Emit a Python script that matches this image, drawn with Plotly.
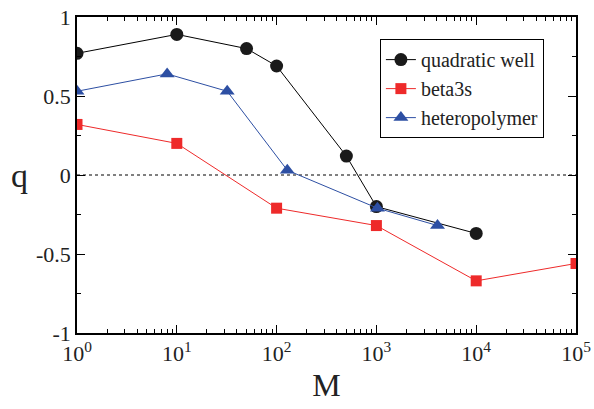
import plotly.graph_objects as go

qw_M = [1, 10, 50, 100, 500, 1000, 10000]
qw_q = [0.77, 0.89, 0.80, 0.69, 0.12, -0.20, -0.37]

b3_M = [1, 10, 100, 1000, 10000, 100000]
b3_q = [0.32, 0.20, -0.21, -0.32, -0.67, -0.56]

hp_M = [1, 8, 32, 128, 1024, 4096]
hp_q = [0.53, 0.64, 0.53, 0.03, -0.21, -0.32]

x_tickvals = [1, 10, 100, 1000, 10000, 100000]
x_ticktext = ["10<sup>0</sup>", "10<sup>1</sup>", "10<sup>2</sup>", "10<sup>3</sup>",
              "10<sup>4</sup>", "10<sup>5</sup>"]
y_tickvals = [-1, -0.5, 0, 0.5, 1]
y_ticktext = ["-1", "-0.5", "0", "0.5", "1"]

font = "Liberation Serif"
fig = go.Figure()
fig.add_trace(go.Scatter(x=qw_M, y=qw_q, mode="lines+markers", name="quadratic well",
                         line=dict(color="black", width=1),
                         marker=dict(symbol="circle", size=13, color="#1a1a1a")))
fig.add_trace(go.Scatter(x=b3_M, y=b3_q, mode="lines+markers", name="beta3s",
                         line=dict(color="#ee2a2a", width=1),
                         marker=dict(symbol="square", size=11, color="#ee2a2a")))
fig.add_trace(go.Scatter(x=hp_M, y=hp_q, mode="lines+markers", name="heteropolymer",
                         line=dict(color="#2d4fa3", width=1),
                         marker=dict(symbol="triangle-up", size=13, color="#2d4fa3")))

fig.add_shape(type="line", xref="paper", yref="y", x0=0, x1=1, y0=0, y1=0,
              line=dict(color="black", width=1, dash="dot"), layer="below")

fig.add_annotation(text="q", xref="paper", yref="paper", x=-0.115, y=0.5,
                   xanchor="center", yanchor="middle", showarrow=False,
                   font=dict(family=font, size=34, color="#222"))

fig.update_layout(
    width=594, height=409,
    margin=dict(l=77, r=18, t=17, b=76, autoexpand=False),
    paper_bgcolor="white", plot_bgcolor="white",
    font=dict(family=font, size=20, color="#222"),
    showlegend=True,
    legend=dict(x=0.607, y=0.93, xanchor="left", yanchor="top",
                bordercolor="black", borderwidth=1, bgcolor="white",
                font=dict(family=font, size=20, color="#222"), tracegroupgap=0,
                itemwidth=30),
    xaxis=dict(type="log", range=[0, 5], tickvals=x_tickvals, ticktext=x_ticktext,
               automargin=False,
               showgrid=False, zeroline=False, showline=True, linecolor="black",
               linewidth=1.5, mirror="ticks", ticks="inside", ticklen=8,
               tickcolor="black",
               minor=dict(ticks="inside", ticklen=4, dtick="D1", tickcolor="black", showgrid=False),
               title=dict(text="M", font=dict(family=font, size=32), standoff=8),
               tickfont=dict(family=font, size=22)),
    yaxis=dict(range=[-1, 1], tickvals=y_tickvals, ticktext=y_ticktext,
               automargin=False,
               showgrid=False, zeroline=False, showline=True, linecolor="black",
               linewidth=1.5, mirror="ticks", ticks="inside", ticklen=8,
               tickcolor="black",
               minor=dict(ticks="inside", ticklen=4, dtick=0.25, tickcolor="black", showgrid=False),
               tickfont=dict(family=font, size=22)),
)

fig.write_html("out.html")
